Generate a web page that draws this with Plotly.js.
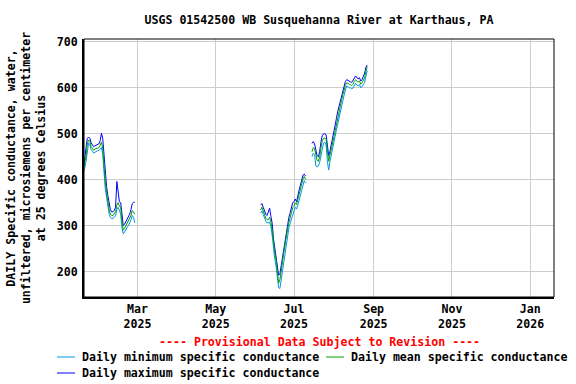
<!DOCTYPE html>
<html>
<head>
<meta charset="utf-8">
<script src="https://cdn.plot.ly/plotly-3.0.1.min.js"></script>
<style>html,body{margin:0;padding:0;background:#fff;}#chart{width:576px;height:384px;}</style>
</head>
<body>
<div id="chart"></div>
<script>
// ---- Data (daily values, microsiemens/cm at 25 C) ----
var seg1Start = "2025-01-18";
var seg1Mean = [425,435,450,478,486,484,472,468,464,467,468,469,470,475,482,468,425,395,372,352,335,325,322,322,325,330,345,350,342,340,308,290,294,300,304,309,315,322,333,330,325];
var seg1Max  = [432,445,470,490,493,490,480,475,472,474,475,476,478,485,501,490,450,410,385,365,348,335,330,330,333,340,396,365,352,350,320,300,303,308,312,318,325,335,348,351,351];
var seg1Min  = [418,425,440,465,480,476,465,462,458,460,462,463,464,468,470,455,405,380,362,342,325,318,315,316,318,322,335,340,332,325,295,282,286,292,296,300,306,312,322,318,306];

var seg2Start = "2025-06-05";
var seg2Mean = [334,340,332,321,316,313,313,318,308,290,258,240,225,204,175,182,198,220,240,260,277,293,307,317,328,339,342,350,346,358,369,377,390,402,407,401];
var seg2Max  = [345,348,340,330,325,322,330,338,320,305,272,252,238,218,192,195,212,235,255,272,290,305,318,328,340,350,352,358,352,368,378,388,400,410,412,408];
var seg2Min  = [328,332,324,314,310,306,306,308,298,278,245,228,212,190,165,163,182,205,225,245,263,280,295,305,316,325,332,340,336,345,356,366,378,392,398,393];

var seg3Start = "2025-07-15";
var seg3Mean = [461,470,468,455,442,440,450,470,485,490,491,488,460,440,454,465,478,492,506,521,535,549,561,573,585,596,605,611,610,608,607,605,608,614,618,614,613,615,608,611,617,622,636,646];
var seg3Max  = [479,483,478,468,452,450,462,482,496,500,500,498,475,452,462,475,490,505,518,533,548,560,572,584,596,606,614,618,616,614,613,612,616,622,626,622,620,622,615,618,625,632,645,650];
var seg3Min  = [450,458,455,430,428,430,438,455,472,480,482,475,440,421,440,452,465,480,494,508,522,536,548,560,572,584,595,604,603,600,600,598,600,606,610,606,605,607,600,603,608,612,625,638];

var tickDates = ["2025-03-01","2025-05-01","2025-07-01","2025-09-01","2025-11-01","2026-01-01"];
var tickLabels = ["Mar<br>2025","May<br>2025","Jul<br>2025","Sep<br>2025","Nov<br>2025","Jan<br>2026"];
var yTicks = [200,300,400,500,600,700];

var seriesNames = ["Daily minimum specific conductance","Daily mean specific conductance","Daily maximum specific conductance"];
var seriesColors = ["#0096e6","#00a000","#0000ff"];

// ---- Build x/y with gaps between segments ----
function dayList(start, n) {
  var out = [];
  var d = new Date(start + "T00:00:00Z");
  for (var i = 0; i < n; i++) {
    var c = new Date(d.getTime() + i * 86400000);
    out.push(c.toISOString().slice(0, 10));
  }
  return out;
}
function joinSegs(segs) {
  var xs = [], ys = [];
  segs.forEach(function (s, k) {
    var ds = dayList(s[0], s[1].length);
    if (k > 0) {
      var g = new Date(new Date(s[0] + "T00:00:00Z").getTime() - 86400000).toISOString().slice(0, 10);
      xs.push(g); ys.push(null);
    }
    xs = xs.concat(ds); ys = ys.concat(s[1]);
  });
  return {x: xs, y: ys};
}
var minS = joinSegs([[seg1Start, seg1Min],[seg2Start, seg2Min],[seg3Start, seg3Min]]);
var meanS = joinSegs([[seg1Start, seg1Mean],[seg2Start, seg2Mean],[seg3Start, seg3Mean]]);
var maxS = joinSegs([[seg1Start, seg1Max],[seg2Start, seg2Max],[seg3Start, seg3Max]]);

var FS = 11.6;
var font = {family: "DejaVu Sans Mono, monospace", size: FS, color: "#000", weight: "bold"};

var traces = [
  {x: maxS.x, y: maxS.y, mode: "lines", name: seriesNames[2], line: {color: seriesColors[2], width: 1}, connectgaps: false},
  {x: minS.x, y: minS.y, mode: "lines", name: seriesNames[0], line: {color: seriesColors[0], width: 1}, connectgaps: false},
  {x: meanS.x, y: meanS.y, mode: "lines", name: seriesNames[1], line: {color: seriesColors[1], width: 1}, connectgaps: false}
];

// pixel -> paper helpers (plot area 84..554 x 39..297)
var L = 84, R = 554, T = 39, B = 297;
function px(x) { return (x - L) / (R - L); }
function py(y) { return (B - y) / (B - T); }

var shapes = [
  {type: "rect", xref: "paper", yref: "paper", x0: 0, x1: 1, y0: 0, y1: 1, line: {color: "#000", width: 1}},
  {type: "line", xref: "paper", yref: "paper", x0: px(57), x1: px(75), y0: py(357), y1: py(357), line: {color: seriesColors[0], width: 1}},
  {type: "line", xref: "paper", yref: "paper", x0: px(326), x1: px(344), y0: py(357), y1: py(357), line: {color: seriesColors[1], width: 1}},
  {type: "line", xref: "paper", yref: "paper", x0: px(57), x1: px(75), y0: py(373), y1: py(373), line: {color: seriesColors[2], width: 1}}
];
var annotations = [
  {xref: "paper", yref: "paper", x: px(319), y: py(342), xanchor: "center", yanchor: "middle", showarrow: false,
   text: "---- Provisional Data Subject to Revision ----", font: {family: font.family, size: FS, color: "#ff0000", weight: "bold"}},
  {xref: "paper", yref: "paper", x: px(80), y: py(357), xanchor: "left", yanchor: "middle", showarrow: false, text: seriesNames[0], font: font},
  {xref: "paper", yref: "paper", x: px(349), y: py(357), xanchor: "left", yanchor: "middle", showarrow: false, text: seriesNames[1], font: font},
  {xref: "paper", yref: "paper", x: px(80), y: py(373), xanchor: "left", yanchor: "middle", showarrow: false, text: seriesNames[2], font: font}
];

var layout = {
  width: 576, height: 384,
  margin: {l: L, r: 576 - R, t: T, b: 384 - B, pad: 0},
  paper_bgcolor: "#fff", plot_bgcolor: "#fff",
  showlegend: false,
  font: font,
  title: {text: "USGS 01542500 WB Susquehanna River at Karthaus, PA", x: 0.5, xref: "paper", y: (384 - 20) / 384, yref: "container", yanchor: "middle",
          font: font},
  xaxis: {type: "date", range: ["2025-01-18 10:00", "2026-01-19 12:00"], tickvals: tickDates, ticktext: tickLabels,
          showgrid: true, gridcolor: "#cccccc", gridwidth: 1, showline: true, linecolor: "#000", linewidth: 2, ticks: "",
          zeroline: false, tickfont: font},
  yaxis: {range: [144.5, 706.5], tickvals: yTicks, showgrid: true, gridcolor: "#cccccc", gridwidth: 1,
          showline: true, linecolor: "#000", linewidth: 2, ticks: "", zeroline: false, tickfont: font, ticklabelstandoff: 2,
          title: {text: "DAILY Specific conductance, water,<br>unfiltered, microsiemens per centimeter<br>at 25 degrees Celsius", font: font, standoff: 9}},
  shapes: shapes,
  annotations: annotations
};

Plotly.newPlot("chart", traces, layout, {displayModeBar: false, staticPlot: true});
</script>
</body>
</html>
